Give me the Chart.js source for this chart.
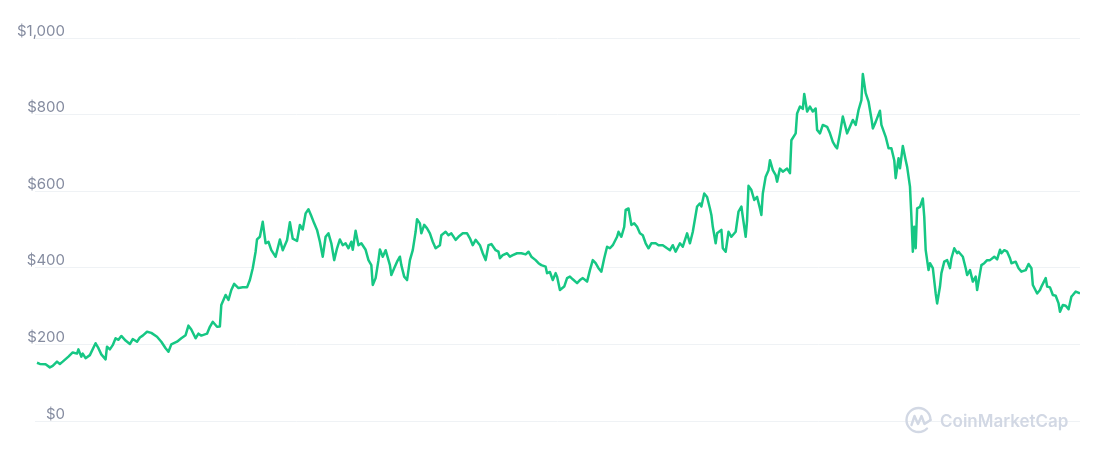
<!DOCTYPE html>
<html>
<head>
<meta charset="utf-8">
<script src="https://cdn.jsdelivr.net/npm/chart.js@4.4.1/dist/chart.umd.min.js"></script>
<style>
  html, body { margin: 0; padding: 0; background: #ffffff; }
  #wrap { position: relative; width: 1100px; height: 458px; }
</style>
</head>
<body>
<div id="wrap"><canvas id="priceChart"></canvas></div>
<script>
// day offsets from the first point
const days = [
  0, 2, 6, 9, 11, 14, 16, 18, 22, 25,
  28, 29, 31, 32, 34, 37, 41, 43, 45, 48,
  49, 51, 53, 55, 57, 59, 62, 65, 67, 70,
  72, 74, 77, 80, 84, 87, 90, 92, 94, 98,
  101, 104, 106, 108, 111, 113, 115, 119, 121, 123,
  126, 128, 129, 132, 134, 136, 138, 141, 144, 147,
  149, 151, 153, 154, 156, 158, 160, 162, 164, 167,
  170, 172, 175, 177, 179, 182, 184, 186, 188, 190,
  192, 194, 196, 198, 200, 202, 204, 206, 208, 210,
  212, 214, 216, 218, 220, 221, 223, 225, 227, 230,
  232, 234, 235, 237, 239, 240, 242, 244, 245, 247,
  248, 250, 252, 254, 255, 257, 259, 261, 263, 265,
  266, 268, 269, 271, 273, 275, 277, 279, 282, 283,
  286, 288, 290, 293, 295, 298, 301, 303, 305, 307,
  310, 312, 314, 316, 318, 321, 323, 324, 326, 329,
  331, 333, 336, 339, 342, 344, 346, 349, 351, 353,
  356, 357, 359, 361, 363, 364, 366, 369, 371, 373,
  375, 378, 380, 382, 385, 387, 389, 391, 393, 395,
  397, 399, 401, 403, 406, 407, 409, 411, 412, 414,
  416, 418, 420, 422, 424, 426, 428, 430, 433, 435,
  438, 441, 443, 445, 447, 450, 452, 455, 457, 459,
  462, 464, 465, 467, 469, 471, 472, 473, 475, 476,
  479, 480, 482, 484, 486, 489, 491, 493, 494, 496,
  497, 498, 500, 502, 504, 506, 507, 508, 510, 512,
  513, 515, 517, 518, 520, 522, 525, 527, 528, 531,
  532, 534, 536, 537, 539, 541, 543, 545, 546, 548,
  550, 553, 555, 557, 559, 560, 562, 564, 567, 569,
  571, 573, 575, 577, 578, 580, 582, 584, 585, 587,
  590, 591, 594, 596, 598, 600, 601, 603, 604, 606,
  608, 609, 611, 612, 613, 614, 615, 616, 618, 620,
  621, 622, 624, 625, 627, 629, 630, 632, 633, 635,
  637, 639, 640, 642, 644, 645, 648, 650, 651, 653,
  655, 657, 658, 660, 661, 663, 665, 667, 670, 672,
  674, 675, 677, 679, 681, 682, 685, 687, 689, 692,
  694, 696, 697, 700, 702, 703, 706, 707, 709, 711,
  713, 715, 716, 718, 720, 722, 724, 725, 727, 730
];

// price in USD
const prices = [
  152, 149, 148, 140, 144, 155, 149, 155, 168, 179,
  176, 187, 168, 176, 164, 172, 203, 190, 174, 161,
  194, 187, 198, 216, 212, 222, 210, 201, 214, 207,
  218, 223, 233, 230, 220, 207, 190, 181, 200, 207,
  216, 224, 249, 239, 216, 228, 223, 228, 246, 259,
  246, 247, 303, 329, 316, 342, 358, 347, 349, 349,
  368, 399, 442, 474, 481, 520, 464, 468, 446, 429,
  474, 446, 472, 519, 476, 470, 512, 500, 542, 553,
  535, 516, 499, 468, 429, 481, 490, 464, 420, 451,
  474, 459, 464, 451, 468, 447, 497, 459, 464, 447,
  420, 407, 355, 373, 420, 448, 429, 446, 433, 407,
  381, 399, 416, 429, 407, 377, 368, 420, 446, 494,
  527, 516, 490, 512, 503, 490, 468, 451, 459, 485,
  494, 485, 490, 473, 481, 490, 490, 477, 459, 473,
  459, 438, 420, 459, 462, 446, 442, 425, 433, 438,
  429, 433, 438, 438, 435, 442, 429, 420, 412, 407,
  403, 386, 389, 368, 386, 377, 342, 351, 373, 377,
  370, 360, 368, 373, 364, 394, 420, 412, 399, 390,
  425, 455, 451, 459, 481, 494, 481, 507, 551, 555,
  512, 516, 507, 490, 485, 464, 451, 464, 464, 459,
  459, 451, 446, 459, 442, 464, 455, 490, 464, 494,
  560, 568, 560, 594, 585, 555, 538, 507, 464, 490,
  499, 451, 442, 494, 481, 494, 547, 560, 533, 481,
  524, 614, 603, 577, 585, 555, 538, 594, 638, 655,
  681, 655, 642, 625, 659, 651, 659, 647, 733, 751,
  803, 821, 815, 854, 808, 821, 808, 816, 760, 751,
  773, 768, 751, 729, 716, 712, 751, 795, 751, 768,
  786, 773, 812, 838, 906, 856, 834, 790, 764, 781,
  810, 773, 742, 712, 712, 681, 634, 686, 660, 718,
  681, 664, 612, 533, 442, 507, 451, 555, 559, 581,
  533, 446, 394, 412, 399, 333, 307, 351, 386, 416,
  420, 399, 425, 451, 438, 442, 429, 399, 381, 394,
  364, 377, 342, 386, 407, 412, 420, 420, 429, 422,
  447, 438, 446, 442, 425, 412, 416, 399, 390, 394,
  410, 399, 355, 333, 342, 351, 373, 351, 349, 329,
  327, 307, 285, 303, 301, 292, 325, 329, 338, 333
];

const yTicks = [0, 200, 400, 600, 800, 1000];
const brand = 'CoinMarketCap';

const GREEN = '#16c784';
const GRID = '#eff2f5';
const LABEL = '#858ca0';
const FONT = '15px Inter';

// labels sit inside the plot, right-aligned at a fixed edge
const probe = document.createElement('canvas').getContext('2d');
probe.font = FONT;
const widest = Math.max(...yTicks.map(v => probe.measureText('$' + v.toLocaleString('en-US')).width));

const watermark = {
  id: 'watermark',
  afterDraw(chart) {
    const ctx = chart.ctx;
    ctx.save();
    ctx.strokeStyle = '#d2d8e4';
    ctx.fillStyle = '#d2d8e4';
    ctx.lineWidth = 2.4;
    ctx.lineCap = 'round';
    ctx.lineJoin = 'round';
    const cx = 918.5, cy = 420, r = 12;
    ctx.beginPath();
    ctx.arc(cx, cy, r, 0.25 * Math.PI, 2.0 * Math.PI);
    ctx.stroke();
    ctx.beginPath();
    ctx.moveTo(cx - 7, cy + 5);
    ctx.lineTo(cx - 4, cy - 4);
    ctx.lineTo(cx - 0.5, cy + 4);
    ctx.lineTo(cx + 3, cy - 4);
    ctx.lineTo(cx + 6, cy + 4);
    ctx.lineTo(cx + r, cy);
    ctx.stroke();
    ctx.font = '600 17px Inter';
    ctx.textBaseline = 'alphabetic';
    ctx.fillText(brand, 940, 427);
    ctx.restore();
  }
};

new Chart(document.getElementById('priceChart'), {
  type: 'line',
  data: {
    datasets: [{
      data: days.map((d, i) => ({ x: d, y: prices[i] })),
      borderColor: GREEN,
      borderWidth: 2.5,
      pointRadius: 0,
      tension: 0,
      fill: false,
      borderJoinStyle: 'round'
    }]
  },
  options: {
    responsive: true,
    maintainAspectRatio: false,
    animation: false,
    layout: { padding: { left: 35, right: 20, top: 38, bottom: 37 } },
    plugins: {
      legend: { display: false },
      tooltip: { enabled: false }
    },
    scales: {
      x: {
        type: 'linear',
        min: -1.4,
        max: 730,
        display: false
      },
      y: {
        min: 0,
        max: 1000,
        afterBuildTicks: s => { s.ticks = yTicks.map(v => ({ value: v })); },
        afterFit: s => { s.width = 0; },
        border: { display: false },
        grid: { color: GRID, lineWidth: 1, drawTicks: false },
        ticks: {
          mirror: true,
          crossAlign: 'far',
          padding: 30 - widest,
          labelOffset: -7,
          color: LABEL,
          font: { family: 'Inter', size: 15 },
          callback: v => '$' + v.toLocaleString('en-US')
        }
      }
    }
  },
  plugins: [watermark]
});
</script>
</body>
</html>
